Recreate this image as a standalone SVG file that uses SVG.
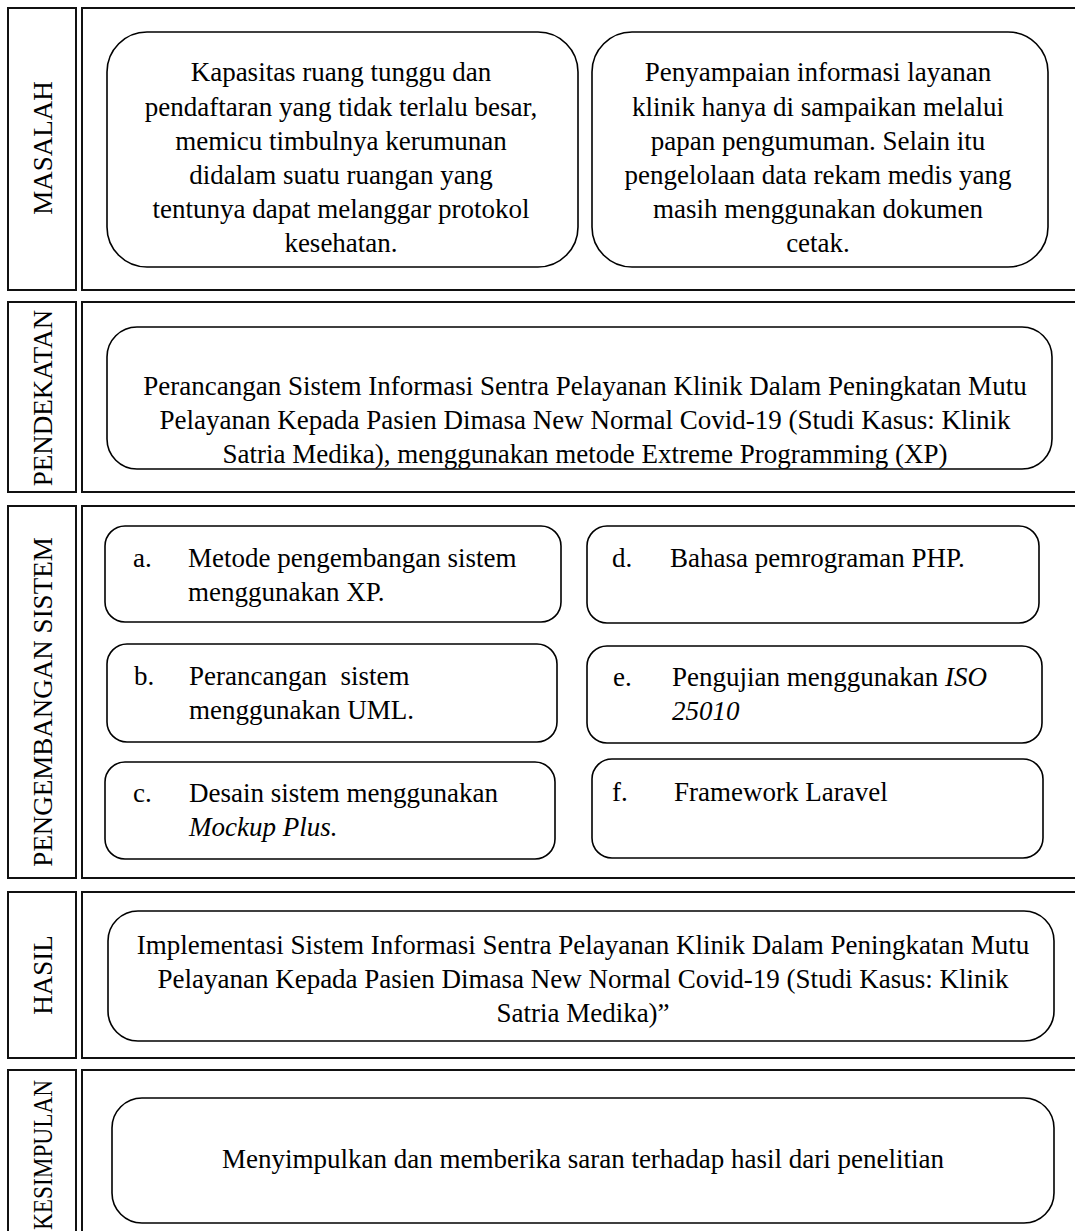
<svg xmlns="http://www.w3.org/2000/svg" width="1075" height="1231" viewBox="0 0 1075 1231">
  <style>
    .cell { fill: #fff; stroke: #111; stroke-width: 2; }
    .box { fill: #fff; stroke: #000; stroke-width: 1.6; }
    text { font-family: "Liberation Serif", "Times New Roman", serif; font-size: 27px; fill: #000; }
    .c { text-anchor: middle; }
    .lbl { text-anchor: middle; }
    .i { font-style: italic; }
  </style>
  <rect width="1075" height="1231" fill="#fff"/>

  <!-- Row 1: MASALAH -->
  <g id="row-masalah">
    <rect class="cell" x="8" y="8" width="68" height="282"/>
    <rect class="cell" x="82" y="8" width="1000" height="282"/>
    <text class="lbl" transform="translate(52,148) rotate(-90)">MASALAH</text>
  </g>
  <g id="masalah-1">
    <rect class="box" x="107" y="32" width="471" height="235" rx="40" ry="40"/>
    <text class="c" x="341" y="81">Kapasitas ruang tunggu dan</text>
    <text class="c" x="341" y="115.5">pendaftaran yang tidak terlalu besar,</text>
    <text class="c" x="341" y="150">memicu timbulnya kerumunan</text>
    <text class="c" x="341" y="184">didalam suatu ruangan yang</text>
    <text class="c" x="341" y="218">tentunya dapat melanggar protokol</text>
    <text class="c" x="341" y="252">kesehatan.</text>
  </g>
  <g id="masalah-2">
    <rect class="box" x="592" y="32" width="456" height="235" rx="40" ry="40"/>
    <text class="c" x="818" y="81">Penyampaian informasi layanan</text>
    <text class="c" x="818" y="115.5">klinik hanya di sampaikan melalui</text>
    <text class="c" x="818" y="150">papan pengumuman. Selain itu</text>
    <text class="c" x="818" y="184">pengelolaan data rekam medis yang</text>
    <text class="c" x="818" y="218">masih menggunakan dokumen</text>
    <text class="c" x="818" y="252">cetak.</text>
  </g>

  <!-- Row 2: PENDEKATAN -->
  <g id="row-pendekatan">
    <rect class="cell" x="8" y="302" width="68" height="190"/>
    <rect class="cell" x="82" y="302" width="1000" height="190"/>
    <text class="lbl" transform="translate(52,398) rotate(-90)">PENDEKATAN</text>
  </g>
  <g id="pendekatan">
    <rect class="box" x="107" y="327" width="945" height="142" rx="30" ry="30"/>
    <text class="c" x="585" y="395">Perancangan Sistem Informasi Sentra Pelayanan Klinik Dalam Peningkatan Mutu</text>
    <text class="c" x="585" y="429">Pelayanan Kepada Pasien Dimasa New Normal Covid-19 (Studi Kasus: Klinik</text>
    <text class="c" x="585" y="463">Satria Medika), menggunakan metode Extreme Programming (XP)</text>
  </g>

  <!-- Row 3: PENGEMBANGAN SISTEM -->
  <g id="row-pengembangan">
    <rect class="cell" x="8" y="506" width="68" height="372"/>
    <rect class="cell" x="82" y="506" width="1000" height="372"/>
    <text class="lbl" transform="translate(52,702) rotate(-90)">PENGEMBANGAN SISTEM</text>
  </g>
  <g id="item-a">
    <rect class="box" x="105" y="526" width="456" height="96" rx="20" ry="20"/>
    <text x="133" y="567">a.</text>
    <text x="188" y="567">Metode pengembangan sistem</text>
    <text x="188" y="601">menggunakan XP.</text>
  </g>
  <g id="item-d">
    <rect class="box" x="587" y="526" width="452" height="97" rx="20" ry="20"/>
    <text x="612" y="567">d.</text>
    <text x="670" y="567">Bahasa pemrograman PHP.</text>
  </g>
  <g id="item-b">
    <rect class="box" x="107" y="644" width="450" height="98" rx="20" ry="20"/>
    <text x="134" y="685">b.</text>
    <text x="189" y="685">Perancangan&#160; sistem</text>
    <text x="189" y="719">menggunakan UML.</text>
  </g>
  <g id="item-e">
    <rect class="box" x="587" y="646" width="455" height="97" rx="20" ry="20"/>
    <text x="613" y="686">e.</text>
    <text x="672" y="686">Pengujian menggunakan <tspan class="i">ISO</tspan></text>
    <text class="i" x="672" y="720">25010</text>
  </g>
  <g id="item-c">
    <rect class="box" x="105" y="762" width="450" height="97" rx="20" ry="20"/>
    <text x="133" y="802">c.</text>
    <text x="189" y="802">Desain sistem menggunakan</text>
    <text class="i" x="189" y="836">Mockup Plus.</text>
  </g>
  <g id="item-f">
    <rect class="box" x="592" y="759" width="451" height="99" rx="20" ry="20"/>
    <text x="612" y="801">f.</text>
    <text x="674" y="801">Framework Laravel</text>
  </g>

  <!-- Row 4: HASIL -->
  <g id="row-hasil">
    <rect class="cell" x="8" y="892" width="68" height="166"/>
    <rect class="cell" x="82" y="892" width="1000" height="166"/>
    <text class="lbl" transform="translate(52,975) rotate(-90)">HASIL</text>
  </g>
  <g id="hasil">
    <rect class="box" x="108" y="911" width="946" height="130" rx="30" ry="30"/>
    <text class="c" x="583" y="954">Implementasi Sistem Informasi Sentra Pelayanan Klinik Dalam Peningkatan Mutu</text>
    <text class="c" x="583" y="988">Pelayanan Kepada Pasien Dimasa New Normal Covid-19 (Studi Kasus: Klinik</text>
    <text class="c" x="583" y="1022">Satria Medika)”</text>
  </g>

  <!-- Row 5: KESIMPULAN (label squeezed to fit above the bottom edge) -->
  <g id="row-kesimpulan">
    <rect class="cell" x="8" y="1070" width="68" height="180"/>
    <rect class="cell" x="82" y="1070" width="1000" height="180"/>
    <text transform="translate(52,1080) rotate(-90)" text-anchor="end" textLength="150" lengthAdjust="spacingAndGlyphs">KESIMPULAN</text>
  </g>
  <g id="kesimpulan">
    <rect class="box" x="112" y="1098" width="942" height="125" rx="30" ry="30"/>
    <text class="c" x="583" y="1168">Menyimpulkan dan memberika saran terhadap hasil dari penelitian</text>
  </g>

  <!-- no connectors in this chart -->
  <g id="connectors"/>
</svg>
